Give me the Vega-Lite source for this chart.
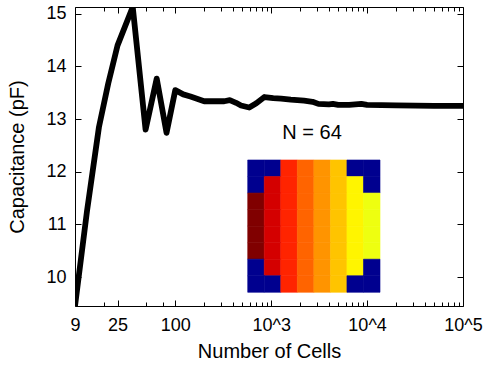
{
  "$schema": "https://vega.github.io/schema/vega-lite/v6.json",
  "width": 388,
  "height": 299,
  "autosize": "none",
  "padding": {"left": 75, "top": 7, "right": 21, "bottom": 62},
  "background": "white",
  "config": {
    "view": {"stroke": "#000", "strokeWidth": 1},
    "font": "Liberation Sans",
    "axis": {
      "domain": false,
      "grid": false,
      "ticks": true,
      "tickColor": "#000",
      "tickWidth": 1,
      "labelColor": "#000",
      "titleColor": "#000",
      "labelFont": "Liberation Sans",
      "titleFont": "Liberation Sans",
      "labelFontSize": 18,
      "titleFontSize": 20,
      "titleFontWeight": "normal"
    }
  },
  "datasets": {
    "cap": [
      {"N": 9, "C": 9.45},
      {"N": 12, "C": 11.25},
      {"N": 16, "C": 12.85},
      {"N": 20, "C": 13.68},
      {"N": 25, "C": 14.4},
      {"N": 36, "C": 15.13},
      {"N": 49, "C": 12.8},
      {"N": 64, "C": 13.77},
      {"N": 81, "C": 12.74},
      {"N": 100, "C": 13.55},
      {"N": 121, "C": 13.47},
      {"N": 144, "C": 13.43},
      {"N": 200, "C": 13.34},
      {"N": 256, "C": 13.34},
      {"N": 324, "C": 13.34},
      {"N": 370, "C": 13.36},
      {"N": 430, "C": 13.31},
      {"N": 484, "C": 13.26},
      {"N": 590, "C": 13.22},
      {"N": 700, "C": 13.3},
      {"N": 850, "C": 13.42},
      {"N": 1050, "C": 13.4},
      {"N": 1270, "C": 13.39},
      {"N": 1600, "C": 13.37},
      {"N": 2200, "C": 13.35},
      {"N": 2700, "C": 13.33},
      {"N": 3100, "C": 13.29},
      {"N": 4000, "C": 13.28},
      {"N": 4400, "C": 13.29},
      {"N": 5000, "C": 13.27},
      {"N": 6500, "C": 13.27},
      {"N": 8700, "C": 13.29},
      {"N": 10000, "C": 13.27},
      {"N": 20000, "C": 13.26},
      {"N": 50000, "C": 13.25},
      {"N": 100000, "C": 13.25}
    ],
    "grid": [
      {"r": 0, "c": 0, "v": "B"}, {"r": 0, "c": 1, "v": "B"}, {"r": 0, "c": 2, "v": "L2"}, {"r": 0, "c": 3, "v": "L3"}, {"r": 0, "c": 4, "v": "L4"}, {"r": 0, "c": 5, "v": "L5"}, {"r": 0, "c": 6, "v": "B"}, {"r": 0, "c": 7, "v": "B"},
      {"r": 1, "c": 0, "v": "B"}, {"r": 1, "c": 1, "v": "L1"}, {"r": 1, "c": 2, "v": "L2"}, {"r": 1, "c": 3, "v": "L3"}, {"r": 1, "c": 4, "v": "L4"}, {"r": 1, "c": 5, "v": "L5"}, {"r": 1, "c": 6, "v": "L6"}, {"r": 1, "c": 7, "v": "B"},
      {"r": 2, "c": 0, "v": "L0"}, {"r": 2, "c": 1, "v": "L1"}, {"r": 2, "c": 2, "v": "L2"}, {"r": 2, "c": 3, "v": "L3"}, {"r": 2, "c": 4, "v": "L4"}, {"r": 2, "c": 5, "v": "L5"}, {"r": 2, "c": 6, "v": "L6"}, {"r": 2, "c": 7, "v": "L7"},
      {"r": 3, "c": 0, "v": "L0"}, {"r": 3, "c": 1, "v": "L1"}, {"r": 3, "c": 2, "v": "L2"}, {"r": 3, "c": 3, "v": "L3"}, {"r": 3, "c": 4, "v": "L4"}, {"r": 3, "c": 5, "v": "L5"}, {"r": 3, "c": 6, "v": "L6"}, {"r": 3, "c": 7, "v": "L7"},
      {"r": 4, "c": 0, "v": "L0"}, {"r": 4, "c": 1, "v": "L1"}, {"r": 4, "c": 2, "v": "L2"}, {"r": 4, "c": 3, "v": "L3"}, {"r": 4, "c": 4, "v": "L4"}, {"r": 4, "c": 5, "v": "L5"}, {"r": 4, "c": 6, "v": "L6"}, {"r": 4, "c": 7, "v": "L7"},
      {"r": 5, "c": 0, "v": "L0"}, {"r": 5, "c": 1, "v": "L1"}, {"r": 5, "c": 2, "v": "L2"}, {"r": 5, "c": 3, "v": "L3"}, {"r": 5, "c": 4, "v": "L4"}, {"r": 5, "c": 5, "v": "L5"}, {"r": 5, "c": 6, "v": "L6"}, {"r": 5, "c": 7, "v": "L7"},
      {"r": 6, "c": 0, "v": "B"}, {"r": 6, "c": 1, "v": "L1"}, {"r": 6, "c": 2, "v": "L2"}, {"r": 6, "c": 3, "v": "L3"}, {"r": 6, "c": 4, "v": "L4"}, {"r": 6, "c": 5, "v": "L5"}, {"r": 6, "c": 6, "v": "L6"}, {"r": 6, "c": 7, "v": "B"},
      {"r": 7, "c": 0, "v": "B"}, {"r": 7, "c": 1, "v": "B"}, {"r": 7, "c": 2, "v": "L2"}, {"r": 7, "c": 3, "v": "L3"}, {"r": 7, "c": 4, "v": "L4"}, {"r": 7, "c": 5, "v": "L5"}, {"r": 7, "c": 6, "v": "B"}, {"r": 7, "c": 7, "v": "B"}
    ]
  },
  "layer": [
    {
      "data": {"name": "cap"},
      "layer": [
        {
          "mark": {"type": "line", "color": "#000", "strokeWidth": 5.8, "strokeJoin": "round", "strokeCap": "butt", "clip": true},
          "encoding": {
            "x": {
              "field": "N", "type": "quantitative",
              "scale": {"type": "log", "domain": [9, 100000], "nice": false},
              "axis": {
                "orient": "bottom",
                "values": [9, 25, 100, 1000, 10000, 100000],
                "labelExpr": "datum.value >= 1000 ? '10^' + round(log(datum.value) / LN10) : format(datum.value, 'd')",
                "tickSize": -6,
                "labelPadding": 16,
                "labelFlush": false,
                "labelOverlap": false,
                "title": "Number of Cells",
                "titlePadding": 7
              }
            },
            "y": {
              "field": "C", "type": "quantitative",
              "scale": {"domain": [9.45, 15.13], "nice": false, "zero": false},
              "axis": {
                "orient": "left",
                "values": [10, 11, 12, 13, 14, 15],
                "tickSize": -6,
                "labelPadding": 15,
                "labelFlush": false,
                "labelOverlap": false,
                "title": "Capacitance (pF)",
                "titlePadding": 18
              }
            }
          }
        },
        {
          "mark": {"type": "line", "opacity": 0},
          "encoding": {
            "x": {
              "field": "N", "type": "quantitative",
              "scale": {"type": "log", "domain": [9, 100000], "nice": false},
              "axis": {
                "orient": "bottom",
                "values": [18, 50, 75, 200, 300, 400, 500, 600, 700, 800, 900, 2000, 3000, 4000, 5000, 6000, 7000, 8000, 9000, 20000, 30000, 40000, 50000, 60000, 70000, 80000, 90000],
                "labels": false,
                "tickSize": -4,
                "title": null
              }
            },
            "y": {
              "field": "C", "type": "quantitative",
              "scale": {"domain": [9.45, 15.13], "nice": false, "zero": false},
              "axis": {
                "orient": "right",
                "values": [10, 11, 12, 13, 14, 15],
                "labels": false,
                "tickSize": -6,
                "title": null
              }
            }
          }
        },
        {
          "mark": {"type": "line", "opacity": 0},
          "encoding": {
            "x": {
              "field": "N", "type": "quantitative",
              "scale": {"type": "log", "domain": [9, 100000], "nice": false},
              "axis": {
                "orient": "top",
                "values": [9, 25, 100, 1000, 10000, 100000],
                "labels": false,
                "tickSize": -6,
                "title": null
              }
            },
            "y": {
              "field": "C", "type": "quantitative",
              "scale": {"domain": [9.45, 15.13], "nice": false, "zero": false},
              "axis": null
            }
          }
        },
        {
          "mark": {"type": "line", "opacity": 0},
          "encoding": {
            "x": {
              "field": "N", "type": "quantitative",
              "scale": {"type": "log", "domain": [9, 100000], "nice": false},
              "axis": {
                "orient": "top",
                "values": [18, 50, 75, 200, 300, 400, 500, 600, 700, 800, 900, 2000, 3000, 4000, 5000, 6000, 7000, 8000, 9000, 20000, 30000, 40000, 50000, 60000, 70000, 80000, 90000],
                "labels": false,
                "tickSize": -4,
                "title": null
              }
            },
            "y": {
              "field": "C", "type": "quantitative",
              "scale": {"domain": [9.45, 15.13], "nice": false, "zero": false},
              "axis": null
            }
          }
        },
        {
          "data": {"values": [{"label": "N = 64"}]},
          "mark": {"type": "text", "fontSize": 20, "font": "Liberation Sans", "color": "#000", "align": "center", "baseline": "middle"},
          "encoding": {
            "x": {"datum": 2670, "type": "quantitative", "scale": {"type": "log", "domain": [9, 100000], "nice": false}, "axis": null},
            "y": {"datum": 12.73, "type": "quantitative", "scale": {"domain": [9.45, 15.13], "nice": false, "zero": false}, "axis": null},
            "text": {"field": "label"}
          }
        }
      ],
      "resolve": {"axis": {"x": "independent", "y": "independent"}}
    },
    {
      "data": {"name": "grid"},
      "mark": {"type": "rect", "strokeWidth": 0.6},
      "encoding": {
        "x": {
          "field": "c", "type": "ordinal", "axis": null,
          "scale": {"domain": [-10, -9, -8, -7, -6, -5, -4, -3, -2, -1, 0, 1, 2, 3, 4, 5, 6, 7, 8, 9, 10, 11, 12], "paddingInner": 0, "paddingOuter": 0.23, "align": 0.963, "round": false}
        },
        "y": {
          "field": "r", "type": "ordinal", "axis": null,
          "scale": {"domain": [-9, -8, -7, -6, -5, -4, -3, -2, -1, 0, 1, 2, 3, 4, 5, 6, 7], "paddingInner": 0, "paddingOuter": 0.54, "align": 0.232, "round": false}
        },
        "color": {
          "field": "v", "type": "nominal", "legend": null,
          "scale": {
            "domain": ["B", "L0", "L1", "L2", "L3", "L4", "L5", "L6", "L7"],
            "range": ["#00008F", "#800000", "#D40000", "#FF2400", "#FF6400", "#FF9400", "#FFC400", "#FFF500", "#EEFF10"]
          }
        },
        "stroke": {
          "field": "v", "type": "nominal", "legend": null,
          "scale": {
            "domain": ["B", "L0", "L1", "L2", "L3", "L4", "L5", "L6", "L7"],
            "range": ["#00008F", "#800000", "#D40000", "#FF2400", "#FF6400", "#FF9400", "#FFC400", "#FFF500", "#EEFF10"]
          }
        }
      }
    }
  ],
  "resolve": {"scale": {"x": "independent", "y": "independent"}}
}
